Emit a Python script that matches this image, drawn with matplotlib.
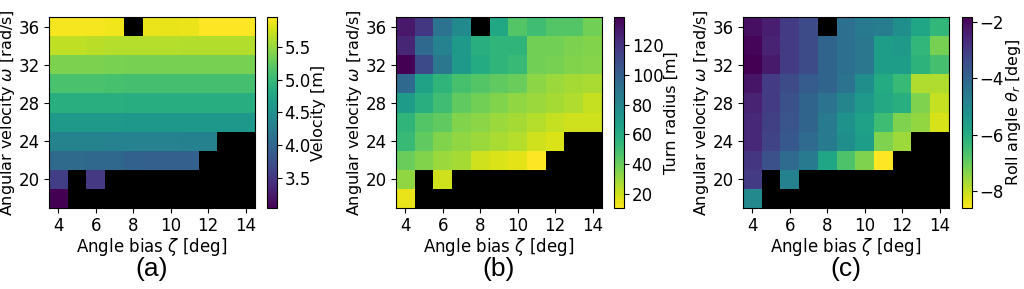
import numpy as np
import matplotlib
matplotlib.use("Agg")
import matplotlib.pyplot as plt

# grid: angle bias (columns) and angular velocity (rows, bottom to top)
zeta = [4, 5, 6, 7, 8, 9, 10, 11, 12, 13, 14]
omega = [18, 20, 22, 24, 26, 28, 30, 32, 34, 36]
nan = np.nan

velocity = [
    [3.04, nan, nan, nan, nan, nan, nan, nan, nan, nan, nan],
    [3.58, nan, 3.52, nan, nan, nan, nan, nan, nan, nan, nan],
    [4.05, 4.05, 4.03, 4.02, 3.95, 3.94, 3.94, 3.93, nan, nan, nan],
    [4.35, 4.35, 4.35, 4.34, 4.33, 4.33, 4.33, 4.32, 4.32, nan, nan],
    [4.62, 4.62, 4.62, 4.61, 4.6, 4.6, 4.6, 4.6, 4.6, 4.6, 4.6],
    [4.88, 4.88, 4.88, 4.87, 4.86, 4.86, 4.86, 4.86, 4.86, 4.86, 4.86],
    [5.12, 5.12, 5.12, 5.11, 5.1, 5.1, 5.1, 5.1, 5.1, 5.1, 5.1],
    [5.38, 5.38, 5.38, 5.37, 5.36, 5.36, 5.36, 5.36, 5.36, 5.36, 5.36],
    [5.68, 5.68, 5.66, 5.64, 5.64, 5.63, 5.63, 5.62, 5.62, 5.62, 5.62],
    [5.92, 5.92, 5.92, 5.9, nan, 5.88, 5.86, 5.88, 5.96, 5.96, 5.96],
]

turn_radius = [
    [15, nan, nan, nan, nan, nan, nan, nan, nan, nan, nan],
    [32, nan, 20, nan, nan, nan, nan, nan, nan, nan, nan],
    [40, 35, 30, 28, 20, 18, 16, 10.5, nan, nan, nan],
    [52, 42, 35, 32, 30, 27, 25, 20, 18, nan, nan],
    [55, 45, 42, 35, 33, 30, 28, 25, 22, 20, 20],
    [68, 58, 50, 42, 38, 35, 32, 30, 28, 26, 22],
    [95, 65, 55, 48, 45, 42, 40, 33, 30, 28, 27],
    [139, 110, 88, 70, 60, 55, 52, 38, 37, 35, 34],
    [125, 95, 82, 70, 58, 55, 55, 38, 38, 36, 35],
    [130, 118, 90, 78, nan, 62, 45, 50, 45, 45, 38],
]

roll_angle = [
    [-5.0, nan, nan, nan, nan, nan, nan, nan, nan, nan, nan],
    [-3.0, nan, -4.8, nan, nan, nan, nan, nan, nan, nan, nan],
    [-2.9, -3.5, -4.2, -4.6, -5.8, -6.7, -7.3, -8.6, nan, nan, nan],
    [-2.6, -3.2, -3.7, -4.2, -4.6, -5.2, -5.6, -7.3, -7.6, nan, nan],
    [-2.6, -3.1, -3.6, -4.0, -4.6, -5.3, -5.7, -6.5, -7.3, -7.5, -8.2],
    [-2.5, -3.0, -3.5, -4.0, -4.4, -4.9, -5.5, -5.9, -6.1, -7.3, -8.0],
    [-2.2, -3.0, -3.4, -3.8, -4.0, -4.4, -5.2, -6.0, -6.4, -7.8, -7.8],
    [-1.82, -2.3, -3.0, -3.4, -4.0, -4.3, -4.5, -5.6, -5.6, -6.2, -6.6],
    [-1.9, -2.5, -3.0, -3.4, -4.0, -4.3, -4.5, -5.6, -5.5, -6.3, -7.2],
    [-2.1, -2.4, -3.0, -3.4, nan, -4.3, -4.6, -4.7, -5.2, -5.8, -6.3],
]

panels = [
    (velocity, "viridis", "Velocity [m]", "(a)", [3.5, 4.0, 4.5, 5.0, 5.5]),
    (turn_radius, "viridis_r", "Turn radius [m]", "(b)", [20, 40, 60, 80, 100, 120]),
    (roll_angle, "viridis_r", r"Roll angle $\theta_r$ [deg]", "(c)", [-8, -6, -4, -2]),
]

fig = plt.figure(figsize=(10.24, 2.89), dpi=100)
lefts = [49, 396, 743]
cb_lefts = [267, 614, 962]
W, H = 1024.0, 289.0
fs = 12

dz = (zeta[1] - zeta[0]) / 2
dw = (omega[1] - omega[0]) / 2
extent = [zeta[0] - dz, zeta[-1] + dz, omega[0] - dw, omega[-1] + dw]

for i, (vals, cmap_name, cb_label, tag, cb_ticks) in enumerate(panels):
    ax = fig.add_axes([lefts[i] / W, 1 - 208 / H, 206 / W, 191 / H])
    cax = fig.add_axes([cb_lefts[i] / W, 1 - 208 / H, 10 / W, 191 / H])
    cmap = plt.get_cmap(cmap_name).copy()
    cmap.set_bad("black")
    arr = np.ma.masked_invalid(np.array(vals, dtype=float))
    im = ax.imshow(arr, origin="lower", extent=extent, aspect="auto",
                   cmap=cmap, interpolation="nearest")
    ax.set_xticks([4, 6, 8, 10, 12, 14])
    ax.set_yticks([20, 24, 28, 32, 36])
    ax.tick_params(labelsize=fs, pad=3)
    ax.set_xlabel(r"Angle bias $\zeta$ [deg]", fontsize=fs, labelpad=1)
    ax.set_ylabel(r"Angular velocity $\omega$ [rad/s]", fontsize=11.5, labelpad=1)
    cb = fig.colorbar(im, cax=cax, ticks=cb_ticks)
    cb.ax.tick_params(labelsize=fs, pad=2)
    cb.set_label(cb_label, fontsize=11.5, labelpad=0)
    fig.text((lefts[i] + 103) / W, 1 - 269 / H, tag, ha="center", va="center",
             fontsize=19, family="Liberation Sans")

fig.savefig("out.png", dpi=100)
